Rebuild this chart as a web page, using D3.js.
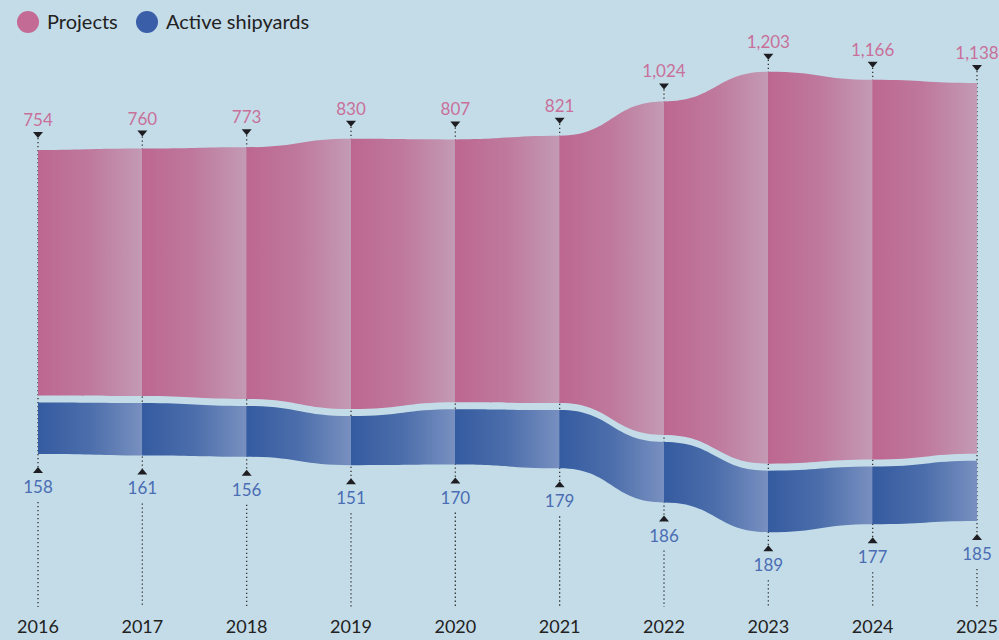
<!DOCTYPE html>
<html>
<head>
<meta charset="utf-8">
<script src="https://cdn.jsdelivr.net/npm/d3@7"></script>
<style>
  body { margin: 0; background: #c4dce8; }
  svg { display: block; font-family: Lato, "Open Sans", sans-serif; }
</style>
</head>
<body>
<div id="visContainer"></div>
<script>
const years = [2016, 2017, 2018, 2019, 2020, 2021, 2022, 2023, 2024, 2025];
const projects = [754, 760, 773, 830, 807, 821, 1024, 1203, 1166, 1138];
const shipyards = [158, 161, 156, 151, 170, 179, 186, 189, 177, 185];
const seriesKeys = ["projects", "shipyards"];
const seriesLabels = ["Projects", "Active shipyards"];

const width = 999;
const height = 640;
const gap = 7; // space between the two bands

const colors = {
  projects: { dark: "#bd6790", light: "#c39ab4", label: "#c8709a", legend: "#c46b95" },
  shipyards: { dark: "#355ba0", light: "#7890c0", label: "#4a6db3", legend: "#3a5ea8" }
};

const rows = years.map((yr, i) => ({ year: yr, projects: projects[i], shipyards: shipyards[i] }));

const svg = d3.select("#visContainer")
  .append("svg")
  .attr("width", width)
  .attr("height", height)
  .style("background", "#c4dce8");

const x = d3.scalePoint().domain(years).range([38, 977]);
const y = d3.scaleLinear().domain([-700, 700]).range([74, 530]);

// centred stream, projects on top
const stacked = d3.stack()
  .keys(seriesKeys)
  .offset(d3.stackOffsetSilhouette)(rows);

const shift = { projects: -gap / 2, shipyards: gap / 2 };

const area = key => d3.area()
  .x(d => x(d.data.year))
  .y0(d => y(d[0]) + shift[key])
  .y1(d => y(d[1]) + shift[key])
  .curve(d3.curveBumpX);

// one gradient per series: dark at each year, fading light toward the next
const defs = svg.append("defs");
const x0 = x(years[0]), x1 = x(years[years.length - 1]);
seriesKeys.forEach(key => {
  const grad = defs.append("linearGradient")
    .attr("id", "grad-" + key)
    .attr("gradientUnits", "userSpaceOnUse")
    .attr("x1", x0).attr("x2", x1)
    .attr("y1", 0).attr("y2", 0);
  const mix = d3.interpolateRgb(colors[key].dark, colors[key].light);
  for (let i = 0; i < years.length - 1; i++) {
    const a = (x(years[i]) - x0) / (x1 - x0);
    const b = (x(years[i + 1]) - x0) / (x1 - x0);
    grad.append("stop").attr("offset", a).attr("stop-color", colors[key].dark);
    grad.append("stop").attr("offset", a + (b - a) * 0.5).attr("stop-color", mix(0.35));
    grad.append("stop").attr("offset", b - 0.0005).attr("stop-color", colors[key].light);
  }
});

const topOf = i => y(stacked[0][i][0]) + shift.projects;
const botOf = i => y(stacked[1][i][1]) + shift.shipyards;

// dotted guide lines (behind the bands)
const guides = svg.append("g")
  .attr("stroke", "#333")
  .attr("stroke-width", 1.3)
  .attr("stroke-dasharray", "1.3,2.7");

guides.selectAll("line.upper")
  .data(years)
  .join("line")
  .attr("class", "upper")
  .attr("x1", d => x(d)).attr("x2", d => x(d))
  .attr("y1", (d, i) => topOf(i) - 12)
  .attr("y2", (d, i) => botOf(i) + 14);

guides.selectAll("line.lower")
  .data(years)
  .join("line")
  .attr("class", "lower")
  .attr("x1", d => x(d)).attr("x2", d => x(d))
  .attr("y1", (d, i) => botOf(i) + 48)
  .attr("y2", 607);

// bands
svg.selectAll("path.band")
  .data(stacked)
  .join("path")
  .attr("class", "band")
  .attr("fill", d => `url(#grad-${d.key})`)
  .attr("d", d => area(d.key)(d));

// triangles
svg.selectAll("path.tri-top")
  .data(years)
  .join("path")
  .attr("class", "tri-top")
  .attr("fill", "#1e1e22")
  .attr("d", (d, i) => {
    const cx = x(d), t = topOf(i);
    return `M${cx - 5},${t - 18}L${cx + 5},${t - 18}L${cx},${t - 12}Z`;
  });

svg.selectAll("path.tri-bot")
  .data(years)
  .join("path")
  .attr("class", "tri-bot")
  .attr("fill", "#1e1e22")
  .attr("d", (d, i) => {
    const cx = x(d), b = botOf(i);
    return `M${cx - 5},${b + 19}L${cx + 5},${b + 19}L${cx},${b + 13}Z`;
  });

const fmt = d3.format(",");

svg.selectAll("text.val-top")
  .data(projects)
  .join("text")
  .attr("class", "val-top")
  .attr("x", (d, i) => x(years[i]))
  .attr("y", (d, i) => topOf(i) - 24)
  .attr("text-anchor", "middle")
  .attr("font-size", 17)
  .attr("fill", colors.projects.label)
  .text(d => fmt(d));

svg.selectAll("text.val-bot")
  .data(shipyards)
  .join("text")
  .attr("class", "val-bot")
  .attr("x", (d, i) => x(years[i]))
  .attr("y", (d, i) => botOf(i) + 39)
  .attr("text-anchor", "middle")
  .attr("font-size", 17)
  .attr("fill", colors.shipyards.label)
  .text(d => fmt(d));

// year axis
svg.selectAll("text.year")
  .data(years)
  .join("text")
  .attr("class", "year")
  .attr("x", d => x(d))
  .attr("y", 633)
  .attr("text-anchor", "middle")
  .attr("font-size", 18)
  .attr("fill", "#222")
  .text(d => d);

// legend
const legendX = [28, 147];
const legend = svg.selectAll("g.legend")
  .data(seriesKeys)
  .join("g")
  .attr("class", "legend")
  .attr("transform", (d, i) => `translate(${legendX[i]},22)`);

legend.append("circle")
  .attr("r", 11)
  .attr("fill", d => colors[d].legend);

legend.append("text")
  .attr("x", 19)
  .attr("y", 7)
  .attr("font-size", 20)
  .attr("fill", "#222")
  .text((d, i) => seriesLabels[i]);
</script>
</body>
</html>
